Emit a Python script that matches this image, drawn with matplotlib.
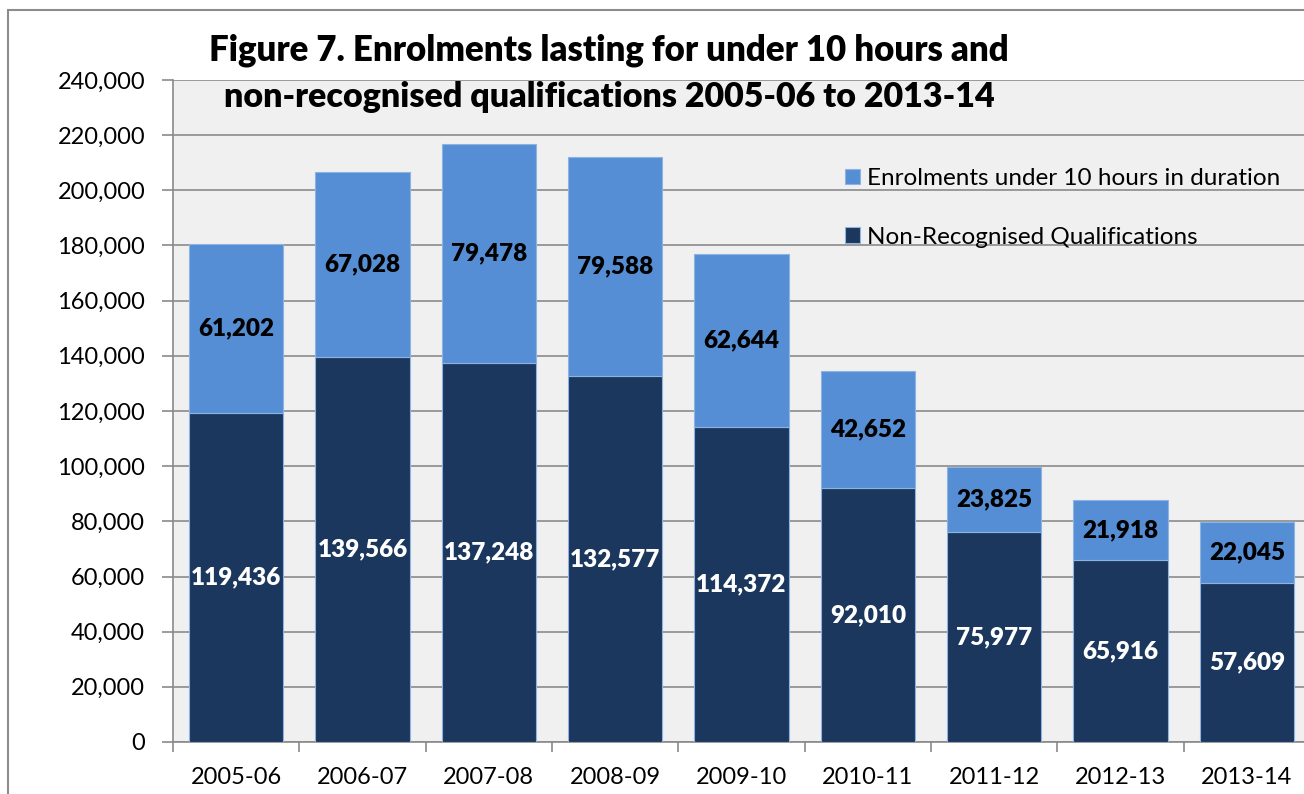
import matplotlib.pyplot as plt
import numpy as np
from matplotlib.patches import Rectangle

plt.rcParams['font.family'] = ['Lato', 'DejaVu Sans']

years = ['2005-06', '2006-07', '2007-08', '2008-09', '2009-10',
         '2010-11', '2011-12', '2012-13', '2013-14']
non_recognised = [119436, 139566, 137248, 132577, 114372, 92010, 75977, 65916, 57609]
under_10_hours = [61202, 67028, 79478, 79588, 62644, 42652, 23825, 21918, 22045]

dark = '#1b375d'
light = '#558ed5'

W, H = 1304, 794
fig = plt.figure(figsize=(W / 100, H / 100), dpi=100)

# outer chart border (cropped at right/bottom)
fig.patches.append(Rectangle((8 / W, -0.1), 1.2, 1 - 10 / H + 0.1, transform=fig.transFigure,
                             fill=False, edgecolor='#8c8c8c', linewidth=1.5))

ax = fig.add_axes([173 / W, (H - 742) / H, (1310 - 173) / W, (742 - 80) / H])
ax.set_facecolor('#f0f0f0')

x = np.arange(len(years))
ax.bar(x, non_recognised, width=0.745, color=dark, edgecolor='#8db3e2', linewidth=0.8,
       label='Non-Recognised Qualifications', zorder=3)
ax.bar(x, under_10_hours, width=0.745, bottom=non_recognised, color=light,
       edgecolor='#8db3e2', linewidth=0.8, label='Enrolments under 10 hours in duration', zorder=3)

for i in range(len(years)):
    ax.text(x[i], non_recognised[i] / 2, f'{non_recognised[i]:,}', ha='center', va='center',
            color='white', fontsize=17.5, fontweight='heavy', zorder=4)
    ax.text(x[i], non_recognised[i] + under_10_hours[i] / 2, f'{under_10_hours[i]:,}',
            ha='center', va='center', color='black', fontsize=17.5, fontweight='heavy', zorder=4)

ax.set_xlim(-0.5, len(years) - 0.5)
ax.set_ylim(0, 240000)
ax.set_yticks(np.arange(0, 240001, 20000))
ax.set_yticklabels([f'{v:,}' for v in range(0, 240001, 20000)])
ax.yaxis.grid(True, color='#8a8a8a', linewidth=1.2, zorder=0)
ax.set_axisbelow(True)

ax.set_xticks(x)
ax.set_xticklabels(years)
ax.set_xticks(np.arange(-0.5, len(years) + 0.5, 1), minor=True)
ax.tick_params(axis='x', which='major', length=0, pad=18, labelsize=17)
ax.tick_params(axis='x', which='minor', length=7, color='#8a8a8a', width=1.2)
ax.tick_params(axis='y', length=8, color='#8a8a8a', width=1.2, labelsize=17, pad=12)

for s in ['top', 'right']:
    ax.spines[s].set_visible(False)
for s in ['left', 'bottom']:
    ax.spines[s].set_color('#8a8a8a')
    ax.spines[s].set_linewidth(1.2)

handles, labels = ax.get_legend_handles_labels()
ax.legend(handles[::-1], labels[::-1], loc='upper left', bbox_to_anchor=(0.572, 0.9),
          frameon=False, fontsize=17.5, handlelength=0.6, handleheight=0.6,
          handletextpad=0.3, labelspacing=1.55)

fig.text(609 / W, 1 - 50 / H, 'Figure 7. Enrolments lasting for under 10 hours and',
         ha='center', va='center', fontsize=25, fontweight='heavy')
fig.text(609 / W, 1 - 97 / H, 'non-recognised qualifications 2005-06 to 2013-14',
         ha='center', va='center', fontsize=24.5, fontweight='heavy')

fig.savefig('out.png', dpi=100)
